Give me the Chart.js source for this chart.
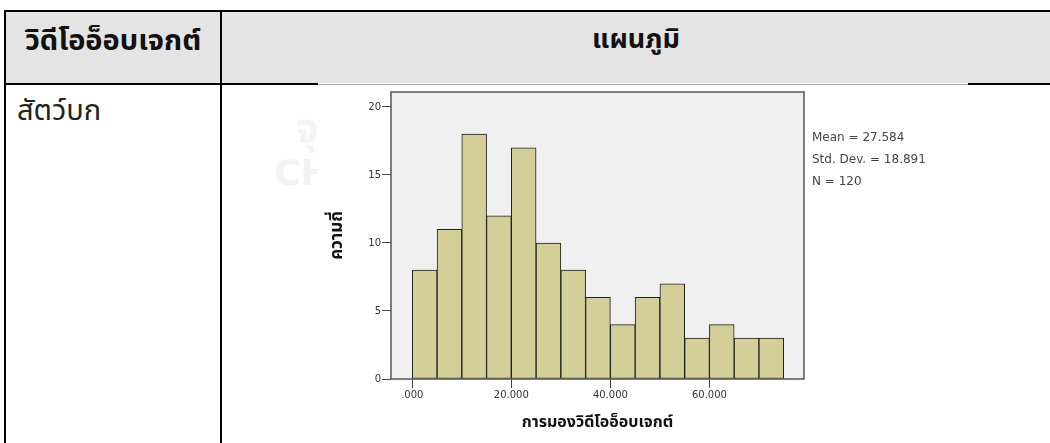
<!DOCTYPE html>
<html>
<head>
<meta charset="utf-8">
<script src="https://cdn.jsdelivr.net/npm/chart.js@4"></script>
<style>
  html, body { margin:0; padding:0; background:#fff; width:1050px; height:443px; overflow:hidden; }
  .abs { position:absolute; }
  .thai { font-family: "Noto Sans Thai", "Noto Sans", "Tahoma", "DejaVu Sans", sans-serif; }
  #chartBox { position:absolute; left:318px; top:85px; width:650px; height:358px; background:#fff; z-index:2; }
  .stats { position:absolute; left:812px; font-family:"DejaVu Sans", sans-serif; font-size:12px; color:#444; z-index:3; line-height:22px; top:126px; }
</style>
</head>
<body>
<!-- header background -->
<div class="abs" style="left:6px; top:12px; width:1044px; height:71px; background:#e4e4e4;"></div>
<!-- top border -->
<div class="abs" style="left:4px; top:10px; width:1046px; height:2px; background:#000;"></div>
<!-- left border -->
<div class="abs" style="left:4px; top:10px; width:2px; height:433px; background:#000;"></div>
<!-- column divider -->
<div class="abs" style="left:220px; top:10px; width:2px; height:433px; background:#000;"></div>
<!-- header bottom line -->
<div class="abs" style="left:4px; top:83px; width:314px; height:2px; background:#000;"></div>
<div class="abs" style="left:318px; top:84px; width:650px; height:1px; background:#aaa;"></div>
<div class="abs" style="left:968px; top:83px; width:82px; height:2px; background:#000;"></div>

<!-- header texts -->
<div class="abs thai" style="left:6px; width:214px; top:19px; text-align:center; font-size:29px; font-weight:bold; color:#111; white-space:nowrap;">วิดีโออ็อบเจกต์</div>
<div class="abs thai" style="left:222px; width:828px; top:19px; text-align:center; font-size:27px; font-weight:bold; color:#111;">แผนภูมิ</div>
<div class="abs thai" style="left:17px; top:89px; font-size:29px; color:#222;">สัตว์บก</div>

<!-- faint watermark -->
<div class="abs thai" style="left:296px; top:100px; font-size:40px; font-weight:bold; color:#f3f3f3; z-index:1;">จุ</div>
<div class="abs" style="left:274px; top:152px; font-family:'DejaVu Sans',sans-serif; font-size:36px; font-weight:bold; color:#f3f3f3; z-index:1;">CH</div>

<div id="chartBox"><canvas id="c" width="650" height="358"></canvas></div>
<div class="stats">Mean = 27.584<br>Std. Dev. = 18.891<br>N = 120</div>

<script>
// ---- data ----
const binCenters = [2.5, 7.5, 12.5, 17.5, 22.5, 27.5, 32.5, 37.5, 42.5, 47.5, 52.5, 57.5, 62.5, 67.5, 72.5];
const frequencies = [8, 11, 18, 12, 17, 10, 8, 6, 4, 6, 7, 3, 4, 3, 3];
const xTickValues = [0, 20, 40, 60];
const yTickValues = [0, 5, 10, 15, 20];
const xTitle = 'การมองวิดีโออ็อบเจกต์';
const yTitle = 'ความถี่';

const points = binCenters.map((c, i) => ({ x: c, y: frequencies[i] }));

const framePlugin = {
  id: 'frame',
  beforeDraw(chart) {
    const { ctx, chartArea: a } = chart;
    ctx.save();
    ctx.fillStyle = '#fff';
    ctx.fillRect(0, 0, chart.width, chart.height);
    ctx.fillStyle = '#f0f0f0';
    ctx.fillRect(a.left, a.top, a.right - a.left, a.bottom - a.top);
    ctx.restore();
  },
  afterDatasetsDraw(chart) {
    const { ctx, chartArea: a } = chart;
    ctx.save();
    ctx.strokeStyle = '#555';
    ctx.lineWidth = 1.5;
    ctx.strokeRect(a.left, a.top, a.right - a.left, a.bottom - a.top);
    ctx.restore();
  }
};

const tickFont = { family: 'DejaVu Sans', size: 10 };
const thaiFont = "'Noto Sans Thai', 'Noto Sans', Tahoma, 'DejaVu Sans', sans-serif";

new Chart(document.getElementById('c'), {
  type: 'bar',
  data: {
    datasets: [{
      data: points,
      backgroundColor: '#d4ce98',
      borderColor: '#1e1e1e',
      borderWidth: 1,
      borderSkipped: false,
      barPercentage: 1,
      categoryPercentage: 1,
      grouped: false
    }]
  },
  options: {
    responsive: false,
    animation: false,
    devicePixelRatio: 1,
    layout: { padding: { top: 3, right: 164, left: 0, bottom: 0 } },
    plugins: { legend: { display: false }, tooltip: { enabled: false } },
    scales: {
      x: {
        type: 'linear',
        offset: false,
        min: -4.3,
        max: 79.1,
        afterFit(s) { s.height = 64; },
        afterBuildTicks(s) { s.ticks = xTickValues.map(v => ({ value: v })); },
        ticks: {
          font: tickFont, color: '#333', padding: 1, maxRotation: 0, autoSkip: false,
          callback: v => v.toFixed(3).replace(/^0\./, '.')
        },
        grid: { offset: false, drawOnChartArea: false, drawTicks: true, tickLength: 9, color: '#444', lineWidth: 1 },
        border: { display: false },
        title: { display: true, text: xTitle, color: '#111', font: { family: thaiFont, size: 16, weight: 'bold' }, padding: { top: 0, bottom: 10 } }
      },
      y: {
        min: 0,
        max: 21.1,
        afterFit(s) { s.width = 73; },
        afterBuildTicks(s) { s.ticks = yTickValues.map(v => ({ value: v })); },
        ticks: { font: tickFont, color: '#333', padding: 1 },
        grid: { drawOnChartArea: false, drawTicks: true, tickLength: 9, color: '#444', lineWidth: 1 },
        border: { display: false },
        title: { display: true, text: yTitle, color: '#111', font: { family: thaiFont, size: 17, weight: 'bold' }, padding: { top: 10, bottom: 0 } }
      }
    }
  },
  plugins: [framePlugin]
});
</script>
</body>
</html>
